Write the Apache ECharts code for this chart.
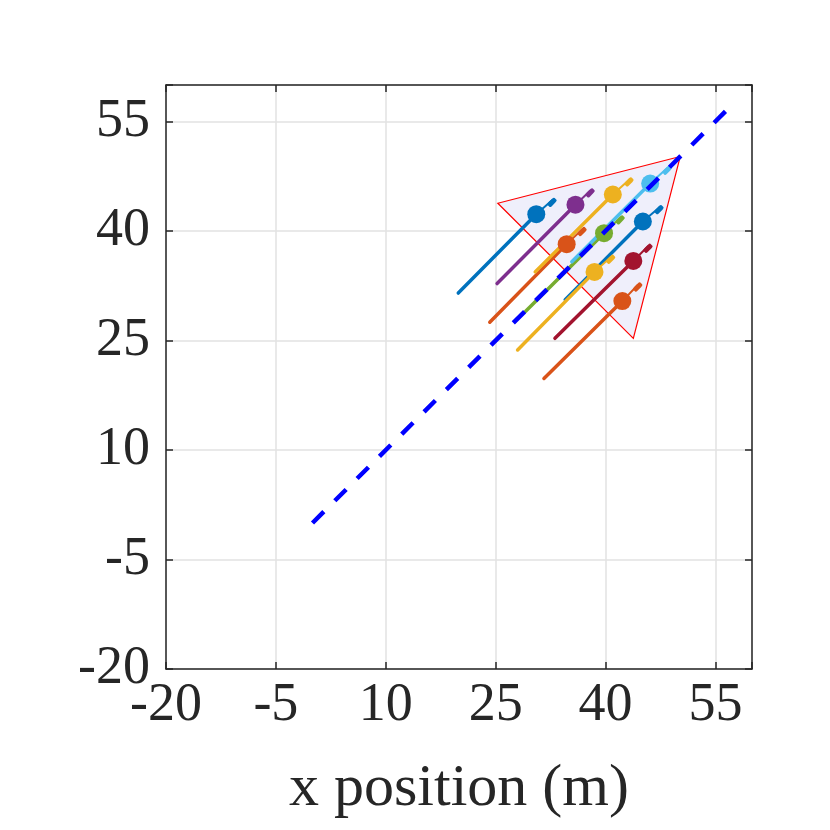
<!DOCTYPE html>
<html>
<head>
<meta charset="utf-8">
<script src="https://cdn.jsdelivr.net/npm/echarts@6/dist/echarts.min.js"></script>
<style>
  html, body { margin: 0; padding: 0; background: #fff; }
  #chart-panel { width: 830px; height: 830px; }
</style>
</head>
<body>
<div id="chart-panel"></div>
<script>
// agent colours (matlab default order)
var colors = ['#0072BD', '#D95319', '#EDB120', '#7E2F8E', '#77AC30',
              '#4DBEEE', '#A2142F', '#0072BD', '#D95319', '#EDB120'];

// trajectory start (tail), current position, heading tip
var tailX = [19.9, 24.2, 30.4, 25.2, 29.1, 35.4, 33.1, 34.5, 31.6, 28.0];
var tailY = [31.5, 27.5, 34.4, 32.8, 29.0, 35.8, 25.3, 30.6, 19.8, 23.7];
var posX  = [30.55, 34.7, 41.0, 35.9, 39.8, 46.1, 43.8, 45.1, 42.3, 38.5];
var posY  = [42.3, 38.2, 45.0, 43.6, 39.7, 46.5, 35.9, 41.3, 30.4, 34.4];
var tipX  = [32.7, 36.8, 43.2, 37.9, 42.0, 48.4, 45.8, 47.3, 44.4, 40.7];
var tipY  = [44.2, 40.2, 47.0, 45.5, 41.8, 48.6, 37.9, 43.2, 32.6, 36.4];

// formation region (triangle)
var regionX = [25.3, 50.2, 43.8];
var regionY = [43.8, 50.2, 25.3];

// reference path y = x
var pathX = [0, 56.4];
var pathY = [0, 56.4];

var xTicks = [-20, -5, 10, 25, 40, 55];
var yTicks = [-20, -5, 10, 25, 40, 55];

var myChart = echarts.init(document.getElementById('chart-panel'), null, { renderer: 'canvas' });

var labelFont = 'Liberation Serif';
var axisColor = '#262626';

function tickFmt(ticks) {
    return function (v) { return ticks.indexOf(v) >= 0 ? String(v) : ''; };
}

var series = [];

// triangle
series.push({
    type: 'custom',
    silent: true,
    z: 1,
    renderItem: function (params, api) {
        var pts = [];
        for (var i = 0; i < regionX.length; i++) {
            pts.push(api.coord([regionX[i], regionY[i]]));
        }
        return {
            type: 'polygon',
            shape: { points: pts },
            style: { fill: '#efeffb', stroke: '#ff0000', lineWidth: 1.2 }
        };
    },
    data: [0]
});

for (var i = 0; i < posX.length; i++) {
    // trail + position marker
    series.push({
        type: 'line',
        silent: true,
        animation: false,
        z: 2,
        lineStyle: { color: colors[i], width: 3.5, cap: 'round' },
        itemStyle: { color: colors[i] },
        data: [
            { value: [tailX[i], tailY[i]], symbol: 'none' },
            { value: [posX[i], posY[i]], symbol: 'circle', symbolSize: 18 }
        ]
    });
    // heading stub
    series.push({
        type: 'line',
        silent: true,
        animation: false,
        z: 2,
        lineStyle: { color: colors[i], width: 2, cap: 'round' },
        itemStyle: { color: colors[i] },
        data: [
            { value: [posX[i], posY[i]], symbol: 'none' },
            { value: [tipX[i], tipY[i]], symbol: 'roundRect', symbolSize: [5, 10], symbolRotate: -45, symbolOffset: [0, 2] }
        ]
    });
}

// reference path
series.push({
    type: 'line',
    silent: true,
    animation: false,
    z: 5,
    symbol: 'none',
    lineStyle: { color: '#0000ff', width: 4.5, type: [16, 15.5] },
    data: pathX.map(function (x, k) { return [x, pathY[k]]; })
});

var option = {
    animation: false,
    backgroundColor: '#ffffff',
    grid: { left: 166, right: 78, top: 85, bottom: 161 },
    xAxis: [{
        type: 'value',
        min: -20, max: 60, interval: 15,
        name: 'x position (m)',
        nameLocation: 'middle',
        nameGap: 90,
        nameTextStyle: { fontFamily: labelFont, fontSize: 60, color: axisColor },
        axisLine: { onZero: false, lineStyle: { color: axisColor, width: 1.5 } },
        axisTick: { inside: true, length: 7, lineStyle: { color: axisColor, width: 1.5 } },
        axisLabel: { margin: 10, fontFamily: labelFont, fontSize: 54, color: axisColor, formatter: tickFmt(xTicks) },
        splitLine: { lineStyle: { color: '#e2e2e2', width: 1.5 } }
    }, {
        type: 'value', position: 'top',
        min: -20, max: 60, interval: 15,
        axisLine: { onZero: false, lineStyle: { color: axisColor, width: 1.5 } },
        axisTick: { inside: true, length: 7, lineStyle: { color: axisColor, width: 1.5 } },
        axisLabel: { show: false },
        splitLine: { show: false }
    }],
    yAxis: [{
        type: 'value',
        min: -20, max: 60, interval: 15,
        axisLine: { show: true, onZero: false, lineStyle: { color: axisColor, width: 1.5 } },
        axisTick: { show: true, inside: true, length: 7, lineStyle: { color: axisColor, width: 1.5 } },
        axisLabel: { margin: 16, fontFamily: labelFont, fontSize: 54, color: axisColor, formatter: tickFmt(yTicks) },
        splitLine: { lineStyle: { color: '#e2e2e2', width: 1.5 } }
    }, {
        type: 'value', position: 'right',
        min: -20, max: 60, interval: 15,
        axisLine: { show: true, onZero: false, lineStyle: { color: axisColor, width: 1.5 } },
        axisTick: { show: true, inside: true, length: 7, lineStyle: { color: axisColor, width: 1.5 } },
        axisLabel: { show: false },
        splitLine: { show: false }
    }],
    series: series
};
myChart.setOption(option);
</script>
</body>
</html>
